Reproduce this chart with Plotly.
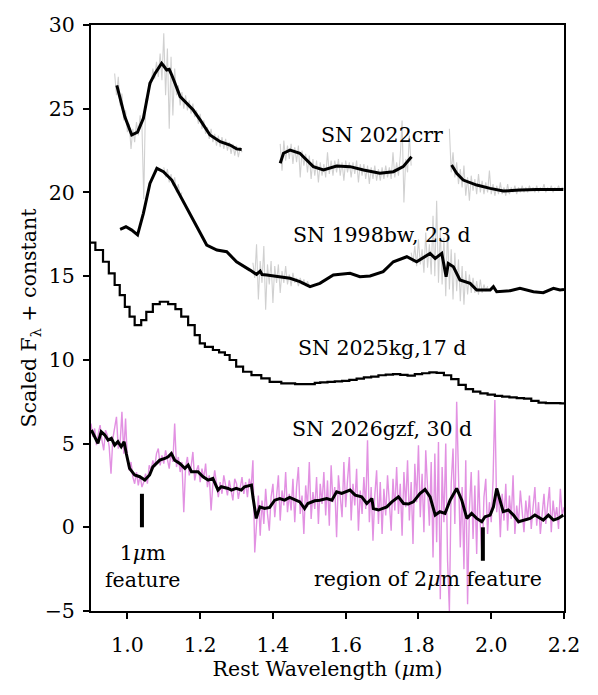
import plotly.graph_objects as go

# ---------------- data ----------------
# SN 2022crr smoothed (black), three segments
crr_s1_x = [0.971, 0.993, 1.012, 1.028, 1.044, 1.062, 1.076, 1.094, 1.100, 1.108, 1.115, 1.122, 1.145, 1.165, 1.181, 1.200, 1.227, 1.255, 1.282, 1.300, 1.314]
crr_s1_y = [26.40, 24.52, 23.43, 23.60, 24.43, 26.52, 27.11, 27.71, 27.55, 27.31, 27.35, 27.01, 25.72, 25.30, 24.92, 24.33, 23.43, 23.03, 22.83, 22.60, 22.57]
crr_s2_x = [1.420, 1.429, 1.447, 1.474, 1.511, 1.539, 1.575, 1.612, 1.649, 1.694, 1.731, 1.758, 1.781]
crr_s2_y = [21.74, 22.34, 22.53, 22.34, 21.54, 21.34, 21.58, 21.54, 21.34, 21.14, 21.24, 21.54, 22.13]
crr_s3_x = [1.891, 1.905, 1.923, 1.960, 1.997, 2.033, 2.079, 2.125, 2.198]
crr_s3_y = [21.64, 21.14, 20.74, 20.44, 20.24, 20.08, 20.14, 20.18, 20.18]

# SN 2022crr raw (grey), three segments sampled every 0.005 um
crr_raw1_start = 0.965
crr_raw1 = [27.1, 25.8, 26.9, 25.2, 25.9, 24.3, 24.9, 23.6, 24.1, 22.6, 23.8, 23.0, 24.2, 23.4, 24.6, 24.0, 19.6, 25.6, 25.4, 26.6,
            26.4, 27.4, 26.8, 27.8, 26.9, 28.3, 26.7, 29.5, 25.8, 28.6, 23.8, 28.1, 24.6, 27.4, 25.8, 26.4, 25.2, 26.0, 25.0, 25.8,
            24.9, 25.5, 24.7, 25.3, 24.5, 24.9, 24.1, 24.7, 23.8, 24.3, 23.5, 23.9, 23.2, 23.8, 23.0, 23.5, 22.8, 23.4, 22.7, 23.3,
            22.6, 23.2, 22.5, 23.0, 22.3, 22.9, 22.2, 22.8, 22.1, 22.7, 22.4]
crr_raw2_start = 1.420
crr_raw2 = [22.9, 21.3, 23.1, 21.9, 22.8, 22.0, 22.9, 21.7, 22.7, 21.8, 22.8, 20.9, 22.5, 21.6, 22.3, 21.2, 22.2, 20.8, 22.0, 21.0,
            21.9, 20.6, 21.8, 21.0, 21.7, 20.9, 22.4, 21.1, 21.9, 21.0, 21.9, 21.2, 22.0, 21.0, 21.8, 20.7, 21.9, 21.2, 21.8, 20.9,
            21.8, 21.1, 21.9, 20.6, 21.7, 21.0, 21.7, 20.8, 21.6, 20.5, 21.5, 20.8, 21.6, 20.7, 21.4, 20.7, 21.5, 20.8, 21.6, 20.9,
            21.5, 20.8, 22.4, 20.9, 21.8, 21.0, 22.2, 24.3, 19.4, 22.0, 21.2, 23.4, 21.6]
crr_raw3_start = 1.885
crr_raw3 = [23.8, 21.2, 22.4, 20.9, 21.8, 20.5, 21.4, 20.3, 21.6, 19.8, 20.9, 19.5, 21.0, 20.1, 20.8, 19.9, 21.1, 20.0, 20.7, 19.9,
            20.6, 20.0, 21.3, 19.9, 20.5, 19.8, 20.4, 19.9, 20.6, 19.9, 20.3, 19.8, 20.5, 19.9, 20.3, 20.0, 20.4, 19.9, 20.3, 20.0,
            20.4, 20.0, 20.3, 20.0, 20.4, 20.1, 20.3, 20.0, 20.4, 20.0, 20.3, 20.1, 20.5, 20.0, 20.3, 20.1, 20.4, 20.0, 20.3, 20.1,
            20.4, 20.1, 20.3, 20.2]

# SN 1998bw smoothed (black)
bw_x = [0.980, 0.996, 1.012, 1.028, 1.044, 1.062, 1.081, 1.099, 1.122, 1.145, 1.167, 1.191, 1.218, 1.246, 1.273, 1.300,
        1.337, 1.355, 1.365, 1.370, 1.383, 1.410, 1.447, 1.474, 1.502, 1.529, 1.566, 1.612, 1.639, 1.667, 1.703, 1.731,
        1.768, 1.795, 1.832, 1.846, 1.864, 1.876, 1.882, 1.896, 1.914, 1.942, 1.960, 1.997, 2.006, 2.015, 2.052, 2.079,
        2.116, 2.143, 2.171, 2.189, 2.200]
bw_y = [17.80, 17.95, 17.75, 17.46, 18.75, 20.54, 21.44, 21.24, 20.74, 19.84, 18.95, 17.95, 16.86, 16.56, 16.46, 15.86,
        15.36, 15.10, 15.30, 15.10, 15.07, 14.97, 14.87, 14.67, 14.37, 14.57, 15.07, 15.17, 14.97, 15.01, 15.27, 15.86,
        16.16, 15.86, 16.36, 16.06, 16.36, 14.97, 15.76, 15.56, 14.77, 14.57, 14.17, 14.17, 14.37, 14.07, 14.13, 14.27,
        14.07, 14.01, 14.27, 14.17, 14.20]
# SN 1998bw raw (grey) noisy parts
bw_raw1_start = 1.100
bw_raw1 = [21.5, 20.9, 21.4, 20.6, 21.1, 20.4, 20.9, 20.0, 20.5, 19.7, 20.0]
bw_raw2_start = 1.345
bw_raw2 = [15.8, 14.9, 16.9, 13.6, 15.9, 14.6, 16.8, 13.0, 15.7, 14.5, 15.9, 13.4, 15.6, 14.6, 15.7, 14.0, 15.3, 14.6, 15.6, 14.5,
           15.1, 14.4, 15.2, 14.6, 14.9, 14.4, 14.9, 14.5, 14.8, 14.4, 14.7, 14.4]
bw_raw3_start = 1.780
bw_raw3 = [16.4, 15.8, 16.8, 15.6, 17.2, 15.7, 16.6, 15.2, 17.6, 15.5, 16.9, 15.1, 18.6, 15.0, 19.5, 14.6, 17.8, 14.5, 17.3, 13.8,
           17.9, 14.2, 16.6, 13.6, 16.4, 14.1, 16.0, 13.5, 15.6, 13.3, 15.3, 13.9, 15.1, 14.0, 14.9, 14.0, 14.7, 13.9, 14.8, 14.0,
           14.5, 14.1, 14.4]

# SN 2025kg binned spectrum (step)
kg_x = [0.900, 0.912, 0.933, 0.949, 0.965, 0.979, 0.993, 1.006, 1.020, 1.038, 1.052, 1.070, 1.089, 1.112, 1.132, 1.148,
        1.167, 1.185, 1.199, 1.213, 1.235, 1.252, 1.268, 1.281, 1.299, 1.318, 1.341, 1.368, 1.391, 1.423, 1.461, 1.515,
        1.530, 1.550, 1.570, 1.590, 1.610, 1.630, 1.650, 1.670, 1.690, 1.710, 1.730, 1.750, 1.770, 1.790, 1.810, 1.830,
        1.850, 1.870, 1.890, 1.910, 1.930, 1.950, 1.970, 1.990, 2.010, 2.030, 2.050, 2.070, 2.090, 2.110, 2.130, 2.150,
        2.170, 2.190, 2.200]
kg_y = [17.00, 16.56, 15.86, 15.17, 14.47, 13.87, 13.17, 12.58, 12.08, 12.37, 12.87, 13.33, 13.47, 13.33, 13.03, 12.58,
        12.08, 11.48, 10.99, 10.78, 10.59, 10.45, 10.29, 9.99, 9.59, 9.29, 9.09, 8.89, 8.69, 8.60, 8.55, 8.63,
        8.65, 8.69, 8.72, 8.75, 8.80, 8.88, 8.95, 9.00, 9.08, 9.12, 9.15, 9.10, 9.06, 9.15, 9.20, 9.25,
        9.22, 9.08, 8.85, 8.50, 8.25, 8.10, 8.00, 7.92, 7.85, 7.80, 7.76, 7.72, 7.68, 7.55, 7.45, 7.42,
        7.42, 7.40, 7.40]

# SN 2026gzf smoothed (black)
gzf_x = [0.901, 0.910, 0.919, 0.928, 0.938, 0.947, 0.956, 0.965, 0.974, 0.983, 0.991, 0.997, 1.006, 1.020, 1.034, 1.048,
         1.061, 1.070, 1.089, 1.103, 1.112, 1.121, 1.130, 1.144, 1.158, 1.167, 1.176, 1.194, 1.208, 1.222, 1.235, 1.249,
         1.258, 1.277, 1.286, 1.299, 1.313, 1.322, 1.341, 1.345, 1.354, 1.364, 1.377, 1.391, 1.405, 1.419, 1.432, 1.446,
         1.460, 1.474, 1.487, 1.496, 1.515, 1.529, 1.548, 1.562, 1.575, 1.589, 1.612, 1.626, 1.644, 1.658, 1.672, 1.676,
         1.690, 1.713, 1.727, 1.745, 1.759, 1.772, 1.786, 1.804, 1.818, 1.832, 1.846, 1.859, 1.873, 1.887, 1.905, 1.919,
         1.933, 1.946, 1.960, 1.974, 1.983, 1.997, 2.006, 2.015, 2.024, 2.033, 2.047, 2.061, 2.075, 2.088, 2.107, 2.120,
         2.129, 2.143, 2.157, 2.171, 2.184, 2.198]
gzf_y = [5.81, 5.41, 5.01, 5.71, 5.51, 5.21, 5.31, 4.91, 5.11, 4.81, 5.11, 4.41, 3.52, 3.12, 3.02, 2.82,
         3.12, 3.61, 4.01, 4.11, 4.21, 4.41, 4.01, 3.81, 3.52, 3.72, 3.32, 3.32, 3.02, 2.82, 2.92, 2.22,
         2.42, 2.32, 2.22, 2.32, 2.22, 2.42, 2.52, 1.82, 0.53, 1.22, 1.12, 1.19, 1.62, 1.72, 1.62, 1.79,
         1.67, 1.52, 1.12, 1.42, 1.58, 1.62, 1.72, 1.62, 2.12, 2.02, 2.22, 1.92, 1.82, 1.42, 1.72, 1.12,
         1.03, 1.22, 1.52, 1.82, 1.42, 1.39, 1.52, 2.02, 2.26, 1.82, 0.73, 0.93, 0.83, 1.62, 2.32, 1.62,
         0.53, 0.83, 0.53, 0.33, 0.63, 0.73, 1.22, 2.32, 1.62, 0.93, 1.03, 0.73, 0.33, 0.43, 0.53, 0.73,
         0.63, 0.43, 0.73, 0.43, 0.53, 0.73]
# SN 2026gzf raw (violet) sampled every 0.005 um from 0.900
gzf_raw_start = 0.900
gzf_raw = [6.2, 5.4, 5.9, 4.9, 5.6, 6.1, 5.2, 4.6, 5.8, 5.5,
           4.8, 3.2, 5.3, 5.9, 6.6, 4.7, 5.0, 6.9, 4.4, 6.5,
           4.0, 3.4, 3.9, 3.0, 2.6, 3.3, 2.5, 3.1, 2.4, 2.7,
           3.2, 2.6, 3.7, 3.4, 4.0, 3.6, 4.4, 4.7, 3.7, 4.3,
           3.8, 4.6, 4.1, 3.5, 4.5, 3.9, 6.2, 3.6, 4.2, 3.3,
           3.9, 0.9, 3.6, 4.2, 3.1, 3.6, 4.5, 2.8, 3.4, 3.7,
           2.7, 3.5, 2.9, 3.8, 2.4, 3.1, 1.0, 2.6, 3.4, 2.5,
           1.8, 2.7, 2.0, 3.1, 2.4, 1.9, 2.8, 2.2, 1.6, 2.9,
           2.6, 1.7, 2.4, 3.0, 2.0, 2.7, 1.8, 2.9, 2.3, 4.0,
           -1.5, 0.6, 1.9, -0.5, 1.6, 0.2, 2.3, 0.8, -0.2, 1.8,
           2.6, 0.6, 1.9, 3.1, 0.4, 2.2, 1.3, 3.3, 0.9, 2.0,
           1.0, 2.9, 0.3, 2.4, 3.6, 0.8, 1.9, -0.4, 2.5, 1.2,
           3.9, 0.5, 2.1, 1.1, 3.0, 0.2, 2.6, 1.4, 3.3, 0.7,
           2.8, 0.1, 3.7, 1.5, 2.4, -0.6, 3.1, 1.9, 0.6, 3.9,
           1.2, 2.8, 4.2, 0.4, 2.6, 1.3, 3.5, -0.2, 2.2, 0.8,
           3.0, 1.1, 5.2, 0.3, 2.4, -0.8, 1.9, 3.4, 0.2, 2.7,
           -0.4, 2.3, 0.7, 3.1, 1.4, -0.2, 2.9, 1.0, 3.6, 0.8,
           2.6, -0.5, 3.3, 1.2, 4.0, 0.4, 2.7, -1.0, 3.8, 1.5,
           4.9, 0.6, 3.2, -0.3, 4.6, 2.2, 0.1, 3.9, -1.8, 4.4,
           -0.9, 5.1, -4.3, 3.6, 0.3, 5.0, -2.0, -5.0, 2.6, 4.7,
           0.2, 7.5, 3.1, -1.2, 2.4, -2.5, 4.0, -4.6, 1.1, 3.3,
           -0.7, 2.5, -1.6, 3.4, 0.1, -1.9, 1.8, 2.9, -0.4, 1.5,
           0.3, 2.8, 7.6, 0.9, 2.2, -0.6, 2.0, 0.4, 2.6, -0.2,
           1.9, 0.5, 3.1, -0.4, 1.3, 0.2, 2.2, 0.8, -0.3, 1.6,
           0.4, 1.9, -0.1, 1.2, 2.4, 0.1, 1.5, -0.4, 1.0, 2.0,
           0.2, 1.3, 2.4, -0.3, 1.6, 0.5, 1.2, -0.1, 2.3, 0.7,
           1.2]
RAW_STEP = 0.005

# feature markers
feature_x = [1.040, 1.977]
feature_y0 = [0.0, -2.0]
feature_y1 = [2.0, 0.0]

# labels
label_text = ["SN 2022crr", "SN 1998bw, 23 d", "SN 2025kg,17 d", "SN 2026gzf, 30 d"]
label_x = [1.70, 1.70, 1.70, 1.70]
label_y = [23.45, 17.45, 10.70, 5.90]

x_ticks = [1.0, 1.2, 1.4, 1.6, 1.8, 2.0, 2.2]
y_ticks = [-5, 0, 5, 10, 15, 20, 25, 30]


def grid(start, vals):
    return [round(start + RAW_STEP * i, 4) for i in range(len(vals))]


FONT = "DejaVu Serif"
FS = 20.5
GREY = "#d0d0d0"
VIOLET = "#e291e2"

fig = go.Figure()

# grey raw traces
for st, vals in [(crr_raw1_start, crr_raw1), (crr_raw2_start, crr_raw2), (crr_raw3_start, crr_raw3),
                 (bw_raw1_start, bw_raw1), (bw_raw2_start, bw_raw2), (bw_raw3_start, bw_raw3)]:
    fig.add_trace(go.Scatter(x=grid(st, vals), y=vals, mode="lines",
                             line=dict(color=GREY, width=1.1), hoverinfo="skip", showlegend=False))

# violet raw
fig.add_trace(go.Scatter(x=grid(gzf_raw_start, gzf_raw), y=gzf_raw, mode="lines",
                         line=dict(color=VIOLET, width=1.4), showlegend=False))

# black smoothed
for xs, ys in [(crr_s1_x, crr_s1_y), (crr_s2_x, crr_s2_y), (crr_s3_x, crr_s3_y), (bw_x, bw_y), (gzf_x, gzf_y)]:
    fig.add_trace(go.Scatter(x=xs, y=ys, mode="lines", line=dict(color="black", width=3), showlegend=False))

# step spectrum
fig.add_trace(go.Scatter(x=kg_x, y=kg_y, mode="lines", line=dict(color="black", width=2.2, shape="hv"),
                         showlegend=False))

# feature markers
for fx, f0, f1 in zip(feature_x, feature_y0, feature_y1):
    fig.add_trace(go.Scatter(x=[fx, fx], y=[f0, f1], mode="lines", line=dict(color="black", width=4),
                             showlegend=False))

for t, lx, ly in zip(label_text, label_x, label_y):
    fig.add_annotation(x=lx, y=ly, text=t, showarrow=False, font=dict(family=FONT, size=FS, color="black"))

fig.add_annotation(x=1.041, y=-2.35, text="1<i>μ</i>m<br>feature", showarrow=False,
                   font=dict(family=FONT, size=FS, color="black"))
fig.add_annotation(x=1.826, y=-3.1, text="region of 2<i>μ</i>m feature", showarrow=False,
                   font=dict(family=FONT, size=FS, color="black"))

fig.update_layout(
    width=598, height=695,
    margin=dict(l=83, r=42, t=17, b=92),
    paper_bgcolor="white", plot_bgcolor="white",
    font=dict(family=FONT, size=FS, color="black"),
    xaxis=dict(range=[0.9, 2.2], tickvals=x_ticks, ticktext=[f"{v:.1f}" for v in x_ticks], automargin=False,
               showgrid=False, zeroline=False, showline=True, linecolor="black", linewidth=2, mirror=True,
               ticks="outside", ticklen=6, tickwidth=1.5, tickcolor="black", tickfont=dict(size=FS),
               ticklabelstandoff=8,
               title=dict(text="Rest Wavelength (<i>μ</i>m)", font=dict(size=FS), standoff=5)),
    yaxis=dict(range=[-5, 30], tickvals=y_ticks, ticktext=[("\u2212" + str(-v)) if v < 0 else str(v) for v in y_ticks],
               automargin=False,
               showgrid=False, zeroline=False, showline=True, linecolor="black", linewidth=2, mirror=True,
               ticks="outside", ticklen=6, tickwidth=1.5, tickcolor="black", tickfont=dict(size=FS),
               ticklabelstandoff=4,
               title=dict(text="Scaled F<sub>λ</sub> + constant", font=dict(size=FS), standoff=2)),
)

fig.write_html("out.html")
